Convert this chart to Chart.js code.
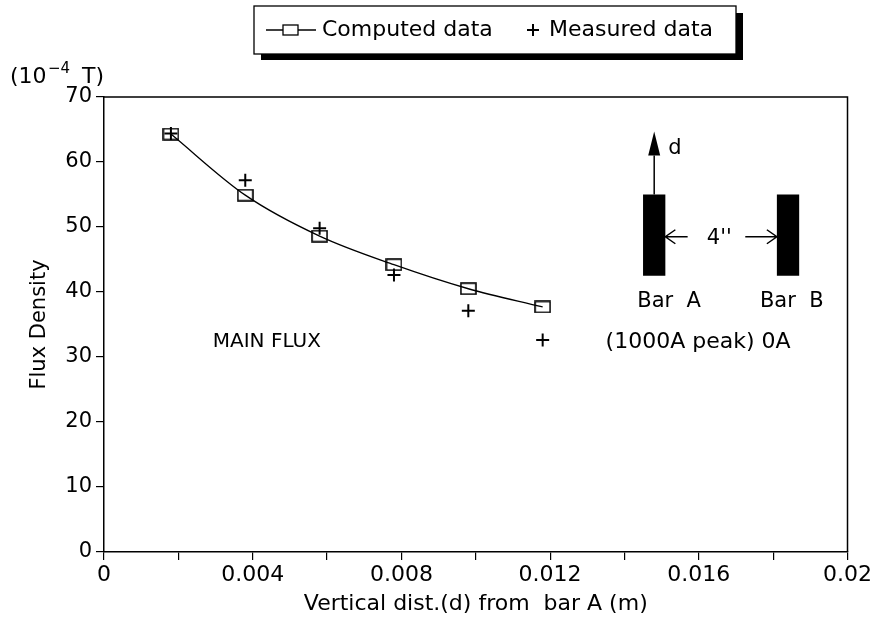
<!DOCTYPE html>
<html>
<head>
<meta charset="utf-8">
<script src="https://cdn.jsdelivr.net/npm/chart.js@4/dist/chart.umd.min.js"></script>
<style>
  html, body { margin: 0; padding: 0; background: #fff; }
  #wrap { width: 874px; height: 617px; position: relative; }
</style>
</head>
<body>
<div id="wrap"><canvas id="chart-flux"></canvas></div>
<script>
// distances from bar A (m)
const distances = [0.0018, 0.0038, 0.0058, 0.0078, 0.0098, 0.0118];
// flux density (10^-4 T)
const computedData = [64.3, 54.9, 48.6, 44.2, 40.5, 37.7];
const measuredData = [64.4, 57.2, 49.8, 42.6, 37.1, 32.6];
const seriesNames = ['Computed data', 'Measured data'];
const xTickLabels = ['0', '0.004', '0.008', '0.012', '0.016', '0.02'];

const FONT = '"DejaVu Sans", sans-serif';

// open rectangle marker, a bit wider than tall like the plotter one
const boxMarker = document.createElement('canvas');
boxMarker.width = 17;
boxMarker.height = 13;
(function () {
  const c = boxMarker.getContext('2d');
  c.strokeStyle = '#000';
  c.lineWidth = 1.6;
  c.strokeRect(1, 1, 15, 11);
})();

// frame, legend box and the bar sketch on the right
const decorations = {
  id: 'decorations',
  afterDraw(chart) {
    const { ctx, chartArea: a, scales: { x, y } } = chart;
    ctx.save();
    ctx.strokeStyle = '#000';
    ctx.fillStyle = '#000';
    ctx.lineWidth = 1.5;
    // top + right frame
    ctx.beginPath();
    ctx.moveTo(a.left, a.top);
    ctx.lineTo(a.right, a.top);
    ctx.lineTo(a.right, a.bottom);
    ctx.stroke();

    // unit label
    ctx.textBaseline = 'middle';
    ctx.textAlign = 'left';
    ctx.font = '22px ' + FONT;
    ctx.fillText('(10', 10, 77);
    ctx.font = '15px ' + FONT;
    ctx.fillText('\u22124', 48, 69);
    ctx.font = '22px ' + FONT;
    ctx.fillText('T)', 82, 77);

    // legend with drop shadow
    const lx = 254, ly = 6, lw = 482, lh = 48;
    ctx.fillRect(lx + 7, ly + lh, lw, 6);
    ctx.fillRect(lx + lw, ly + 7, 7, lh - 1);
    ctx.fillStyle = '#fff';
    ctx.fillRect(lx, ly, lw, lh);
    ctx.fillStyle = '#000';
    ctx.lineWidth = 1.3;
    ctx.strokeRect(lx, ly, lw, lh);
    const my = ly + lh / 2;
    ctx.beginPath();
    ctx.moveTo(266, my); ctx.lineTo(316, my);
    ctx.stroke();
    ctx.fillStyle = '#fff';
    ctx.fillRect(283, my - 5, 15, 10);
    ctx.fillStyle = '#000';
    ctx.strokeRect(283, my - 5, 15, 10);
    ctx.lineWidth = 2;
    ctx.beginPath();
    ctx.moveTo(527, my); ctx.lineTo(539, my);
    ctx.moveTo(533, my - 6); ctx.lineTo(533, my + 6);
    ctx.stroke();
    ctx.font = '22px ' + FONT;
    ctx.fillText(seriesNames[0], 322, my);
    ctx.fillText(seriesNames[1], 549, my);

    // bars A and B
    const px = v => x.getPixelForValue(v);
    const py = v => y.getPixelForValue(v);
    ctx.fillRect(px(0.0145), py(55), px(0.0151) - px(0.0145), py(42.5) - py(55));
    ctx.fillRect(px(0.0181), py(55), px(0.0187) - px(0.0181), py(42.5) - py(55));

    // d arrow
    const cx = px(0.0148);
    ctx.lineWidth = 1.5;
    ctx.beginPath();
    ctx.moveTo(cx, py(55)); ctx.lineTo(cx, py(61));
    ctx.stroke();
    ctx.beginPath();
    ctx.moveTo(cx, py(64.7));
    ctx.lineTo(cx - 6, py(61));
    ctx.lineTo(cx + 6, py(61));
    ctx.closePath();
    ctx.fill();

    // 4" spacing arrows
    const ay = py(48.5);
    const aL = px(0.0151), aR = px(0.0181);
    ctx.beginPath();
    ctx.moveTo(aL, ay); ctx.lineTo(px(0.0157), ay);
    ctx.moveTo(aL + 10, ay - 7); ctx.lineTo(aL, ay); ctx.lineTo(aL + 10, ay + 7);
    ctx.moveTo(px(0.01725), ay); ctx.lineTo(aR, ay);
    ctx.moveTo(aR - 10, ay - 7); ctx.lineTo(aR, ay); ctx.lineTo(aR - 10, ay + 7);
    ctx.stroke();

    ctx.font = '21px ' + FONT;
    ctx.textAlign = 'left';
    ctx.fillText('d', cx + 14, py(62));
    ctx.textAlign = 'center';
    ctx.fillText('4\'\'', px(0.01655), ay + 2);
    ctx.fillText('Bar  A', px(0.0152), py(38.5));
    ctx.fillText('Bar  B', px(0.0185), py(38.5));
    ctx.font = '22px ' + FONT;
    ctx.fillText('(1000A peak) 0A', px(0.01598), py(32.3));
    ctx.font = '20px ' + FONT;
    ctx.fillText('MAIN FLUX', px(0.00438), py(32.3));
    ctx.restore();
  }
};

const ctx = document.getElementById('chart-flux');

new Chart(ctx, {
  type: 'line',
  data: {
    datasets: [{
      label: seriesNames[0],
      data: distances.map((d, i) => ({ x: d, y: computedData[i] })),
      borderColor: '#000',
      borderWidth: 1.3,
      backgroundColor: 'rgba(0,0,0,0)',
      pointStyle: boxMarker,
      pointRadius: 8,
      cubicInterpolationMode: 'monotone'
    }, {
      label: seriesNames[1],
      data: distances.map((d, i) => ({ x: d, y: measuredData[i] })),
      showLine: false,
      pointStyle: 'cross',
      pointRadius: 6.5,
      pointBorderWidth: 2,
      pointBorderColor: '#000'
    }]
  },
  options: {
    responsive: true,
    maintainAspectRatio: false,
    animation: false,
    layout: { padding: { top: 97, right: 26, left: 0, bottom: 0 } },
    plugins: {
      legend: { display: false },
      tooltip: { enabled: false }
    },
    scales: {
      x: {
        type: 'linear',
        min: 0,
        max: 0.02,
        afterFit: s => { s.height = 65; },
        afterBuildTicks: s => {
          s.ticks = [];
          for (let i = 0; i <= 10; i++) s.ticks.push({ value: i * 0.002 });
        },
        border: { color: '#000', width: 1.5 },
        grid: { drawOnChartArea: false, color: '#000', tickLength: 8, lineWidth: 1.2 },
        ticks: {
          color: '#000',
          font: { family: FONT, size: 22 },
          padding: 2,
          maxRotation: 0,
          callback: (v, i) => (i % 2 === 0 ? xTickLabels[i / 2] : '')
        },
        title: {
          display: true,
          text: 'Vertical dist.(d) from  bar A (m)',
          color: '#000',
          font: { family: FONT, size: 22 },
          padding: { top: 0, bottom: 0 }
        }
      },
      y: {
        min: 0,
        max: 70,
        afterFit: s => { s.width = 104; },
        border: { color: '#000', width: 1.5 },
        grid: { drawOnChartArea: false, color: '#000', tickLength: 8, lineWidth: 1.2 },
        ticks: {
          stepSize: 10,
          color: '#000',
          font: { family: FONT, size: 21 },
          padding: 4
        },
        title: {
          display: true,
          text: 'Flux Density',
          color: '#000',
          font: { family: FONT, size: 21 },
          padding: { top: 27, bottom: 0 }
        }
      }
    }
  },
  plugins: [decorations]
});
</script>
</body>
</html>
